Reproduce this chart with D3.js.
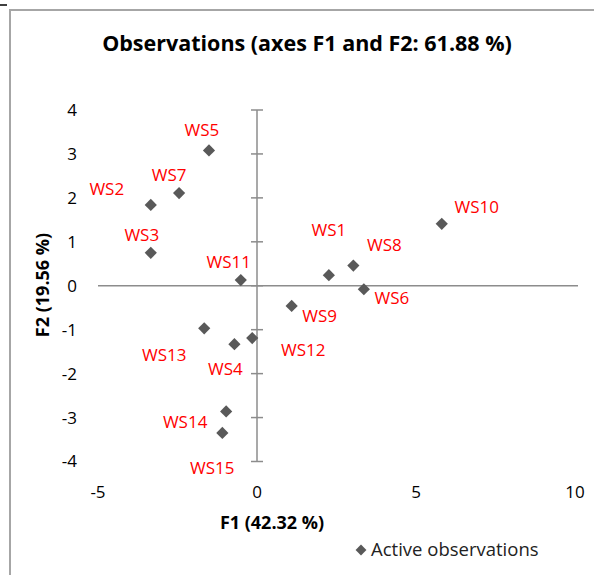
<!DOCTYPE html>
<html>
<head>
<meta charset="utf-8">
<script src="https://cdn.jsdelivr.net/npm/d3@7"></script>
<style>
  body { margin: 0; background: #fff; }
  svg text { font-family: "Open Sans", "Liberation Sans", sans-serif; }
</style>
</head>
<body>
<svg width="594" height="575"></svg>
<script>
// observations (F1, F2 coordinates)
const names = ["WS1","WS2","WS3","WS4","WS5","WS6","WS7","WS8","WS9","WS10","WS11","WS12","WS13","WS14","WS15"];
const f1 = [2.26, -3.34, -3.34, -0.71, -1.51, 3.36, -2.45, 3.03, 1.09, 5.81, -0.51, -0.15, -1.66, -0.97, -1.09];
const f2 = [0.24, 1.84, 0.75, -1.33, 3.08, -0.08, 2.11, 0.46, -0.46, 1.41, 0.13, -1.19, -0.97, -2.86, -3.35];

// label offsets in pixels (label centre relative to marker)
const labelDx = [0, -44, -9, -9, -7, 28, -10, 31, 28, 35, -12, 51, -40, -41, -10];
const labelDy = [-45, -16, -18, 25, -20, 9, -18, -20, 10, -17, -18, 12, 27, 11, 35];

const xTicks = [-5, 0, 5, 10];
const yTicks = [-4, -3, -2, -1, 0, 1, 2, 3, 4];

const svg = d3.select("svg");

// frame
svg.append("rect")
    .attr("x", 10).attr("y", 10)
    .attr("width", 600).attr("height", 600)
    .attr("fill", "none")
    .attr("stroke", "#a6a6a6")
    .attr("stroke-width", 2);
svg.append("line")
    .attr("x1", 0).attr("x2", 7).attr("y1", 5).attr("y2", 5)
    .attr("stroke", "#000").attr("stroke-width", 1.5);

const x = d3.scaleLinear().domain([-5, 10]).range([98, 575]);
const y = d3.scaleLinear().domain([-4, 4]).range([461.5, 110]);

const axisColor = "#8c8c8c";

// horizontal axis (at F2 = 0)
svg.append("line")
    .attr("x1", x(-5)).attr("x2", x(10) + 3)
    .attr("y1", y(0)).attr("y2", y(0))
    .attr("stroke", axisColor).attr("stroke-width", 1.5);

// vertical axis (at F1 = 0) with crossing ticks
svg.append("line")
    .attr("x1", x(0)).attr("x2", x(0))
    .attr("y1", y(4)).attr("y2", y(-4))
    .attr("stroke", axisColor).attr("stroke-width", 1.5);

svg.selectAll(".ytick")
    .data(yTicks)
    .enter()
    .append("line")
    .attr("class", "ytick")
    .attr("x1", x(0) - 6).attr("x2", x(0) + 6)
    .attr("y1", d => y(d)).attr("y2", d => y(d))
    .attr("stroke", axisColor).attr("stroke-width", 1.5);

// tick labels
svg.selectAll(".ylab")
    .data(yTicks)
    .enter()
    .append("text")
    .attr("class", "ylab")
    .attr("x", 77)
    .attr("y", d => y(d))
    .attr("dy", "0.35em")
    .attr("text-anchor", "end")
    .attr("font-size", 17)
    .attr("fill", "#000")
    .text(d => d);

svg.selectAll(".xlab")
    .data(xTicks)
    .enter()
    .append("text")
    .attr("class", "xlab")
    .attr("x", d => x(d))
    .attr("y", 492)
    .attr("dy", "0.35em")
    .attr("text-anchor", "middle")
    .attr("font-size", 17)
    .attr("fill", "#000")
    .text(d => d);

// titles
svg.append("text")
    .attr("x", 307).attr("y", 43)
    .attr("dy", "0.35em")
    .attr("text-anchor", "middle")
    .attr("font-size", 21.5)
    .attr("font-weight", "bold")
    .text("Observations (axes F1 and F2: 61.88 %)");

svg.append("text")
    .attr("x", 272).attr("y", 523)
    .attr("dy", "0.35em")
    .attr("text-anchor", "middle")
    .attr("font-size", 18)
    .attr("font-weight", "bold")
    .text("F1 (42.32 %)");

svg.append("text")
    .attr("transform", "translate(43,285) rotate(-90)")
    .attr("dy", "0.35em")
    .attr("text-anchor", "middle")
    .attr("font-size", 18)
    .attr("font-weight", "bold")
    .text("F2 (19.56 %)");

// points
const data = names.map((n, i) => ({ name: n, f1: f1[i], f2: f2[i], dx: labelDx[i], dy: labelDy[i] }));
const diamond = d3.symbol().type(d3.symbolDiamond2).size(95);
const markerColor = "#595959";

svg.selectAll(".pt")
    .data(data)
    .enter()
    .append("path")
    .attr("class", "pt")
    .attr("d", diamond)
    .attr("transform", d => `translate(${x(d.f1)},${y(d.f2)})`)
    .attr("fill", markerColor);

svg.selectAll(".ptlab")
    .data(data)
    .enter()
    .append("text")
    .attr("class", "ptlab")
    .attr("x", d => x(d.f1) + d.dx)
    .attr("y", d => y(d.f2) + d.dy)
    .attr("dy", "0.35em")
    .attr("text-anchor", "middle")
    .attr("font-size", 17)
    .attr("fill", "#ff0000")
    .text(d => d.name);

// legend
svg.append("path")
    .attr("d", d3.symbol().type(d3.symbolDiamond2).size(75))
    .attr("transform", "translate(361,550)")
    .attr("fill", markerColor);
svg.append("text")
    .attr("x", 371).attr("y", 550)
    .attr("dy", "0.35em")
    .attr("font-size", 18.5)
    .attr("fill", "#222")
    .text("Active observations");
</script>
</body>
</html>
